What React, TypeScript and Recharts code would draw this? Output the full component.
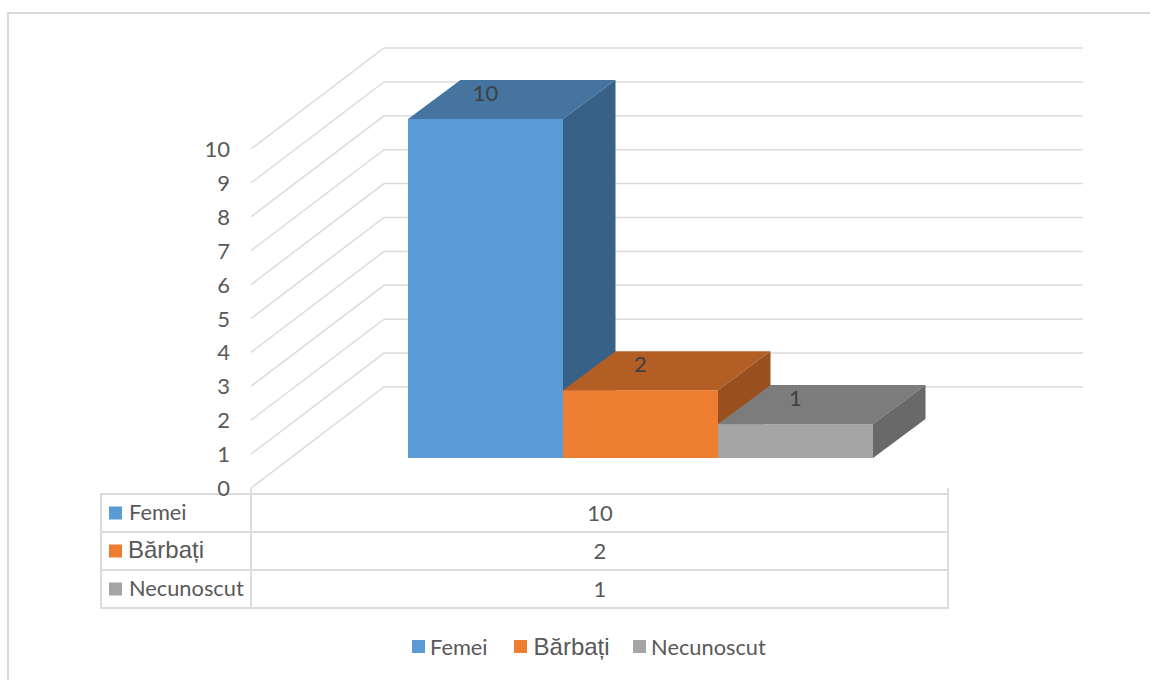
import { BarChart, Bar, XAxis, YAxis, CartesianGrid, Legend, LabelList } from 'recharts'

const seriesNames = ['Femei', 'Bărbați', 'Necunoscut']
const seriesValues = [10, 2, 1]
const yTicks = [0, 1, 2, 3, 4, 5, 6, 7, 8, 9, 10]

const frontColors = ['#5B9BD5', '#ED7D31', '#A5A5A5']
const topColors = ['#44749F', '#B25E25', '#7C7C7C']
const sideColors = ['#376186', '#98501E', '#696969']

const chartData = [
  { name: 'Total', ...Object.fromEntries(seriesNames.map((n, i) => [n, seriesValues[i]])) },
]

const LINE = '#DCDCDC'
const TEXT = '#595959'
const FONT = 'Lato, sans-serif'
// Bărbați is set in a different face from the other labels
const fontFor = (name: string) =>
  name === 'Bărbați'
    ? { fontFamily: '"Liberation Sans", sans-serif', fontSize: 24 }
    : { fontFamily: FONT, fontSize: 21.8 }

// bar depth, as drawn on screen
const DEPTH_X = 52.5
const DEPTH_Y = 39

// y is the bar plane; the floor's front edge sits 30px lower
const FLOOR_DROP = 30

const WallLine = ({ y1 }: any) => {
  const fy = y1 + FLOOR_DROP
  const by = fy - 101
  return <polyline points={`251,${fy} 384,${by} 1083,${by}`} fill="none" stroke={LINE} strokeWidth={1.5} />
}

const WallTick = ({ y, payload }: any) => (
  <text x={230} y={y + FLOOR_DROP + 8} textAnchor="end" fontFamily={FONT} fontSize={22} fill={TEXT}>
    {payload.value}
  </text>
)

const makeBox = (i: number) => ({ x, y, width, height }: any) => {
  const r = x + width
  const b = y + height
  return (
    <g>
      <polygon
        points={`${x},${y} ${x + DEPTH_X},${y - DEPTH_Y} ${r + DEPTH_X},${y - DEPTH_Y} ${r},${y}`}
        fill={topColors[i]}
      />
      <polygon
        points={`${r},${y} ${r + DEPTH_X},${y - DEPTH_Y} ${r + DEPTH_X},${b - DEPTH_Y} ${r},${b}`}
        fill={sideColors[i]}
      />
      <rect x={x} y={y} width={width} height={height} fill={frontColors[i]} />
    </g>
  )
}

const rowTops = [494, 532, 570, 608]

const DataTable = () => (
  <g>
    <rect x={8} y={13} width={1300} height={800} fill="none" stroke="#D9D9D9" strokeWidth={2} />
    {rowTops.map((y) => (
      <line key={y} x1={100} x2={949} y1={y} y2={y} stroke={LINE} strokeWidth={2} />
    ))}
    <line x1={101} x2={101} y1={494} y2={608} stroke={LINE} strokeWidth={2} />
    <line x1={251} x2={251} y1={488} y2={608} stroke={LINE} strokeWidth={2} />
    <line x1={948} x2={948} y1={488} y2={608} stroke={LINE} strokeWidth={2} />
    {seriesNames.map((name, i) => {
      const cy = (rowTops[i] + rowTops[i + 1]) / 2
      return (
        <g key={name}>
          <rect x={109} y={cy - 6.5} width={13} height={13} fill={frontColors[i]} />
          <text x={name === 'Bărbați' ? 128 : 129} y={cy + 7} fill={TEXT} {...fontFor(name)}>
            {name}
          </text>
          <text x={600} y={cy + 7.5} textAnchor="middle" fontFamily={FONT} fontSize={22} fill={TEXT}>
            {seriesValues[i]}
          </text>
        </g>
      )
    })}
  </g>
)

const BottomLegend = () => (
  <div style={{ display: 'flex', alignItems: 'center', height: 24 }}>
    {seriesNames.map((name, i) => (
      <div key={name} style={{ display: 'flex', alignItems: 'center', marginRight: i === 0 ? 26 : i === 1 ? 23 : 0 }}>
        <span style={{ width: 13, height: 13, background: frontColors[i], marginRight: name === 'Bărbați' ? 7 : 5.5 }} />
        <span style={{ color: TEXT, lineHeight: '24px', ...fontFor(name) }}>{name}</span>
      </div>
    ))}
  </div>
)

export default function App() {
  return (
    <div style={{ position: 'absolute', left: 0, top: 0, width: 1150, height: 680, overflow: 'hidden', background: '#fff' }}>
      <BarChart
        width={1150}
        height={680}
        data={chartData}
        margin={{ top: 119, right: 160, bottom: 198, left: 231 }}
        barCategoryGap={117}
        barGap={0}
      >
        <DataTable />
        <CartesianGrid vertical={false} horizontal={WallLine} />
        <XAxis dataKey="name" hide />
        <YAxis
          width={60}
          domain={[0, 10]}
          ticks={yTicks}
          interval={0}
          axisLine={false}
          tickLine={false}
          tick={<WallTick />}
        />
        {seriesNames.map((name, i) => (
          <Bar key={name} dataKey={name} isAnimationActive={false} shape={makeBox(i)}>
            <LabelList
              dataKey={name}
              position="top"
              offset={18}
              fill="#404040"
              fontFamily={FONT}
              fontSize={22}
            />
          </Bar>
        ))}
        <Legend
          content={<BottomLegend />}
          wrapperStyle={{ position: 'absolute', left: 411.5, top: 634.5, width: 400, bottom: 'auto' }}
        />
      </BarChart>
    </div>
  )
}
